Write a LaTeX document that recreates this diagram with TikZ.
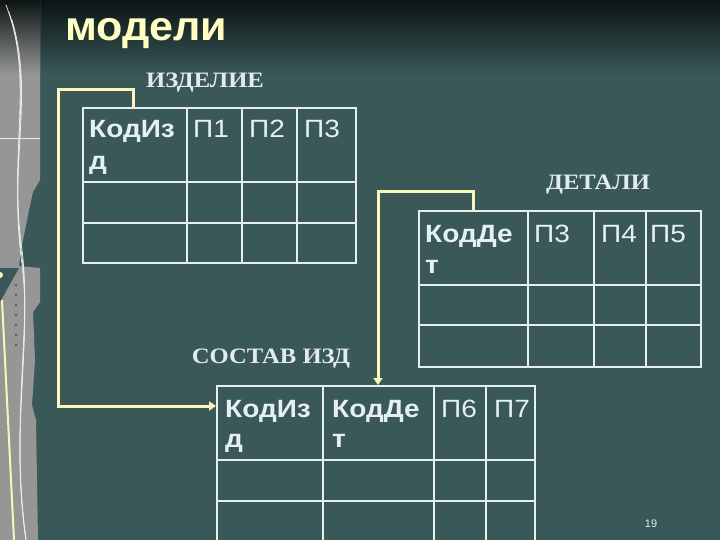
\documentclass[tikz,border=0pt]{standalone}
\usepackage{fontspec}
\setmainfont{Liberation Sans}
\newfontfamily\widesans[FakeStretch=1.12]{Liberation Sans}
\newfontfamily\titlesans[FakeStretch=1.05]{Liberation Sans}
\newfontfamily\serifru[FakeStretch=1.12]{Liberation Serif}
\usetikzlibrary{arrows.meta}
\definecolor{bg}{RGB}{58,88,88}
\definecolor{topdark}{RGB}{12,20,20}
\definecolor{conn}{RGB}{250,245,185}
\definecolor{gridc}{RGB}{228,240,242}
\definecolor{titlec}{RGB}{255,255,195}
\definecolor{lblc}{RGB}{226,234,242}
\definecolor{stripc}{RGB}{150,150,150}
\begin{document}
\begin{tikzpicture}[x=1pt,y=-1pt,
  gridline/.style={draw=gridc, line width=1.6pt},
  link/.style={draw=conn, line width=3pt, line join=miter, -{Triangle[length=7pt,width=9pt]}},
  hdrb/.style={font=\widesans\fontsize{25}{30}\selectfont\bfseries, text=gridc, anchor=base west, inner sep=0pt},
  hdrn/.style={font=\widesans\fontsize{25}{30}\selectfont, text=gridc, anchor=base west, inner sep=0pt},
  tlabel/.style={font=\serifru\fontsize{22}{24}\selectfont\bfseries, text=lblc, anchor=base, inner sep=0pt}]
\useasboundingbox (0,0) rectangle (720,540);
% background
\fill[bg] (0,0) rectangle (720,540);
\shade[top color=topdark, bottom color=bg] (0,0) rectangle (720,75);
% left map strip
\fill[stripc] (0,0) -- (40,0) -- (40,180) -- (33,192) -- (28,215) -- (22,245) -- (19,266)
  -- (40,268) -- (40,302) -- (33,312) -- (35,360) -- (32,405) -- (36,420) -- (38,540) -- (0,540) -- cycle;
\shade[top color=topdark, bottom color=stripc] (0,0) rectangle (40,75);
\fill[bg] (0,268) -- (19,268) -- (0,302) -- cycle;
\foreach \o in {0,7,14}{
  \draw[white!85!stripc, line width=0.7pt] (6+\o*0.4,5+\o) .. controls (35,80+\o) and (8,150+\o) .. (22,250+\o) .. controls (32,330+\o) and (10,420+\o) .. (26,540);
}
\draw[white!80!stripc, line width=0.6pt] (0,138) -- (40,138);
\foreach \yy in {285,295,305,315,325,335,345}{
  \fill[black!70] (16,\yy) circle (1.2pt);
}
\fill[conn] (0,275) circle (3pt);
\draw[conn, line width=2pt] (2,300) -- (14,540);
% title
\node[font=\titlesans\fontsize{41}{46}\selectfont\bfseries, text=titlec, anchor=base west, inner sep=0pt] (title) at (65,41) {модели};
% table labels
\node[tlabel] (lab1) at (205,88) {ИЗДЕЛИЕ};
\node[tlabel] (lab2) at (598,190) {ДЕТАЛИ};
\node[tlabel] (lab3) at (271,363) {СОСТАВ ИЗД};
% table 1: ИЗДЕЛИЕ
\draw[gridline] (83,108) rectangle (356,263);
\draw[gridline] (83,182) -- (356,182) (83,223) -- (356,223)
  (187,108) -- (187,263) (242,108) -- (242,263) (297,108) -- (297,263);
\node[hdrb] (a1) at (89,138) {КодИз};
\node[hdrb] (a1b) at (89,170) {д};
\node[hdrn] (a2) at (193,138) {П1};
\node[hdrn] (a3) at (249,138) {П2};
\node[hdrn] (a4) at (304,138) {П3};
% table 2: ДЕТАЛИ
\draw[gridline] (419,211) rectangle (701,367);
\draw[gridline] (419,285) -- (701,285) (419,325) -- (701,325)
  (528,211) -- (528,367) (594,211) -- (594,367) (646,211) -- (646,367);
\node[hdrb] (b1) at (425,242) {КодДе};
\node[hdrb] (b1b) at (425,273) {т};
\node[hdrn] (b2) at (534,242) {П3};
\node[hdrn] (b3) at (601,242) {П4};
\node[hdrn] (b4) at (650,242) {П5};
% table 3: СОСТАВ ИЗД
\draw[gridline] (217,546) -- (217,386) -- (535,386) -- (535,546);
\draw[gridline] (217,460) -- (535,460) (217,501) -- (535,501)
  (323,386) -- (323,546) (434,386) -- (434,546) (486,386) -- (486,546);
\node[hdrb] (c1) at (225,417) {КодИз};
\node[hdrb] (c1b) at (225,447) {д};
\node[hdrb] (c2) at (332,417) {КодДе};
\node[hdrb] (c2b) at (332,447) {т};
\node[hdrn] (c3) at (441,417) {П6};
\node[hdrn] (c4) at (494,417) {П7};
% connectors
\coordinate (t1top) at (133,108);
\coordinate (t3left) at (216,406);
\coordinate (t2top) at (473,211);
\coordinate (t3top) at (378,385);
\draw[link] (t1top) -- (133,90) -- (58,90) |- (t3left);
\draw[link] (t2top) -- (473,192) -- (t3top |- 0,192) -- (t3top);
% page number
\node[font=\fontsize{11}{13}\selectfont, text=lblc, inner sep=0pt] (pg) at (651,524) {19};
\end{tikzpicture}
\end{document}
